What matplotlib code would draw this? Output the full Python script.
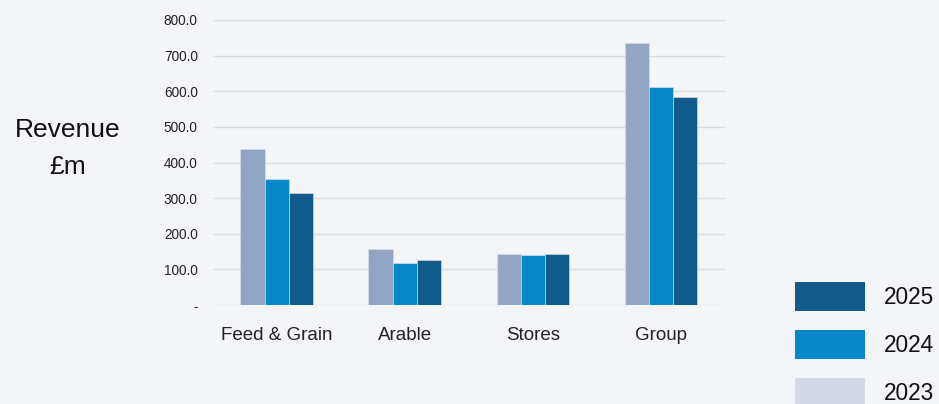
import numpy as np
import matplotlib
matplotlib.use("Agg")
import matplotlib.pyplot as plt
from matplotlib.patches import Rectangle

# ── Data ─────────────────────────────────────────────────────────────────────
categories = ["Feed & Grain", "Arable", "Stores", "Group"]
years      = ["2023", "2024", "2025"]
rev_2023   = [438.0, 157.0, 143.0, 736.0]
rev_2024   = [353.0, 119.0, 140.0, 612.0]
rev_2025   = [315.0, 126.0, 143.0, 584.0]
yticks     = [0, 100, 200, 300, 400, 500, 600, 700, 800]

bar_colors    = ["#93A5C4", "#0688C8", "#125A8A"]
legend_colors = ["#D3D9E6", "#0688C8", "#125A8A"]
BG = "#F4F5F9"

plt.rcParams["font.family"] = ["Liberation Sans", "DejaVu Sans"]

fig = plt.figure(figsize=(9.39, 4.04), dpi=100, facecolor=BG)
ax = fig.add_axes([0.2268, 0.245, 0.5453, 0.7055])
ax.set_facecolor(BG)

x = np.arange(len(categories))
w = 0.19
for i, (vals, col) in enumerate(zip([rev_2023, rev_2024, rev_2025], bar_colors)):
    ax.bar(x + (i - 1) * w, vals, width=w, color=col, zorder=3,
           edgecolor="#DCE3EE", linewidth=0.4)

ax.set_xlim(-0.5, len(categories) - 0.5)
ax.set_ylim(0, 800)
ax.set_yticks(yticks)
ax.set_yticklabels(["-" if t == 0 else f"{t:.1f}" for t in yticks], fontsize=9.8)
ax.set_xticks(x)
ax.set_xticklabels(categories, fontsize=13.5)
ax.tick_params(axis="both", length=0, colors="#222222")
ax.tick_params(axis="y", pad=11)
ax.tick_params(axis="x", pad=16)
ax.grid(axis="y", color="#DADDE3", linewidth=1.0, zorder=0)
for s in ax.spines.values():
    s.set_visible(False)

fig.text(0.072, 0.632, "Revenue\n£m", ha="center", va="center",
         fontsize=19, linespacing=1.65, color="#111111")

# ── Legend (manual, in figure pixels) ────────────────────────────────────────
W, H = 939, 404
leg_y = [282, 330, 378]
for yr, col, ytop in zip(years[::-1], legend_colors[::-1], leg_y):
    fig.patches.append(Rectangle((795 / W, 1 - (ytop + 29) / H), 70 / W, 29 / H,
                                 transform=fig.transFigure, facecolor=col,
                                 edgecolor="none"))
    fig.text(884 / W, 1 - (ytop + 15) / H, yr, ha="left", va="center",
             fontsize=16.3, color="#111111")

fig.savefig("out.png", dpi=100, facecolor=BG)
